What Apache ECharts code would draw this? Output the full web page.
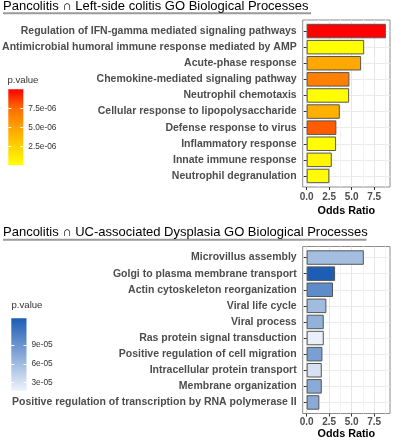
<!DOCTYPE html>
<html>
<head>
<meta charset="utf-8">
<script src="https://cdn.jsdelivr.net/npm/echarts@6/dist/echarts.min.js"></script>
<style>
html, body { margin: 0; padding: 0; background: #fff; }
#chart { width: 394px; height: 440px; }
</style>
</head>
<body>
<div id="chart"></div>
<script>
// Pancolitis ∩ Left-side colitis
var topTerms = [
    'Regulation of IFN-gamma mediated signaling pathways',
    'Antimicrobial humoral immune response mediated by AMP',
    'Acute-phase response',
    'Chemokine-mediated signaling pathway',
    'Neutrophil chemotaxis',
    'Cellular response to lipopolysaccharide',
    'Defense response to virus',
    'Inflammatory response',
    'Innate immune response',
    'Neutrophil degranulation'
];
var topOdds = [8.8, 6.39, 6.05, 4.75, 4.72, 3.68, 3.3, 3.27, 2.79, 2.52];
var topPvals = [1.0e-5, 1e-7, 4.7e-6, 6.6e-6, 2e-7, 4.3e-6, 7.9e-6, 2e-7, 6e-7, 2e-7];

// Pancolitis ∩ UC-associated Dysplasia
var bottomTerms = [
    'Microvillus assembly',
    'Golgi to plasma membrane transport',
    'Actin cytoskeleton reorganization',
    'Viral life cycle',
    'Viral process',
    'Ras protein signal transduction',
    'Positive regulation of cell migration',
    'Intracellular protein transport',
    'Membrane organization',
    'Positive regulation of transcription by RNA polymerase II'
];
var bottomOdds = [6.35, 3.16, 2.93, 2.19, 1.9, 1.9, 1.75, 1.68, 1.68, 1.41];
var bottomPvals = [5.8e-5, 1.32e-4, 9.65e-5, 5.9e-5, 6.7e-5, 1.9e-5, 8.1e-5, 3.0e-5, 7.2e-5, 7.2e-5];

var oddsTicks = [0, 2.5, 5, 7.5];
var oddsMinorTicks = [1.25, 3.75, 6.25, 8.75];
var topLegendTicks = [2.5e-6, 5e-6, 7.5e-6];
var bottomLegendTicks = [3e-5, 6e-5, 9e-5];
var topRange = [1e-7, 1e-5];
var bottomRange = [1.7e-5, 1.33e-4];
var topColors = ['#ffff00', '#ffd100', '#ffa100', '#ff6c00', '#ff0000'];
var bottomColors = ['#eef3fa', '#1c5cb3'];

var font = 'Liberation Sans, Arial, Helvetica, sans-serif';
var oddsMin = -0.44, oddsMax = 9.26;

function sci(v, digits) {
    return v.toExponential(digits).replace(/e([+-])(\d)$/, 'e$10$2');
}

function rows(terms, odds, pvals) {
    return terms.map(function (t, i) { return [odds[i], t, pvals[i]]; });
}

// vertical gradient, bottom = low p
function gradient(colors) {
    return new echarts.graphic.LinearGradient(0, 1, 0, 0, colors.map(function (c, i) {
        return { offset: i / (colors.length - 1), color: c };
    }));
}

// visible x axis (ticks, labels, major grid) on the frame grid
function oddsAxis(grid, labelMargin, nameGap) {
    return {
        gridIndex: grid, type: 'value', min: oddsMin, max: oddsMax,
        name: 'Odds Ratio', nameLocation: 'middle', nameGap: nameGap,
        nameTextStyle: { fontFamily: font, fontWeight: 'bold', fontSize: 10.8, color: '#000' },
        axisLine: { show: false },
        axisTick: { show: true, length: 3, lineStyle: { color: '#333' }, customValues: oddsTicks },
        axisLabel: {
            customValues: oddsTicks, margin: labelMargin,
            fontFamily: font, fontWeight: 'bold', fontSize: 10, color: '#4d4d4d',
            formatter: function (v) { return v.toFixed(1); }
        },
        splitLine: { show: true, lineStyle: { color: '#e6e6e6', width: 1 } }
    };
}
// minor grid lines
function minorAxis(grid) {
    return {
        gridIndex: grid, type: 'value', min: oddsMin, max: oddsMax, position: 'top',
        axisLine: { show: false },
        axisTick: { show: false, customValues: oddsMinorTicks },
        axisLabel: { show: false },
        splitLine: { show: true, lineStyle: { color: '#f3f3f3', width: 1 } }
    };
}
function barX(grid) {
    return { gridIndex: grid, type: 'value', min: oddsMin, max: oddsMax, show: false };
}
function termAxis(grid, terms) {
    return {
        gridIndex: grid, type: 'category', data: terms, inverse: true,
        axisLine: { show: false },
        axisTick: { show: true, length: 3, alignWithLabel: true, interval: 0, lineStyle: { color: '#333' } },
        axisLabel: {
            interval: 0, margin: 6,
            fontFamily: font, fontWeight: 'bold', fontSize: 10.5, color: '#4d4d4d'
        },
        splitLine: { show: true, alignWithLabel: true, interval: 0, lineStyle: { color: '#ebebeb' } }
    };
}
function legendAxis(grid, range, ticks, digits, side) {
    return {
        gridIndex: grid, type: 'value', min: range[0], max: range[1], position: side, z: 6,
        axisLine: { show: false },
        splitLine: { show: false },
        axisTick: { show: true, inside: true, length: 3, lineStyle: { color: '#fff', width: 1 }, customValues: ticks },
        axisLabel: {
            show: side === 'right', customValues: ticks, margin: 5,
            fontFamily: font, fontSize: 8.3, color: '#333',
            formatter: function (v) { return sci(v, digits); }
        }
    };
}
function barSeries(xi, yi, data) {
    return {
        type: 'bar', xAxisIndex: xi, yAxisIndex: yi, data: data,
        encode: { x: 0, y: 1 },
        barCategoryGap: '10%',
        itemStyle: { borderColor: '#555', borderWidth: 1 },
        silent: true
    };
}
// colour bar: transparent stack up to min, gradient from min to max
function colorbarSeries(xi, yi, range, colors, name) {
    return [
        { type: 'bar', xAxisIndex: xi, yAxisIndex: yi, stack: name, data: [range[0]], barWidth: '100%',
          itemStyle: { color: 'transparent' }, silent: true },
        { type: 'bar', xAxisIndex: xi, yAxisIndex: yi, stack: name, data: [range[1] - range[0]], barWidth: '100%',
          itemStyle: { color: gradient(colors) }, silent: true }
    ];
}

var titleStyle = { fontFamily: font, fontSize: 13, fontWeight: 'normal', color: '#000' };
var legendTitleStyle = { fontFamily: font, fontSize: 9.6, fontWeight: 'normal', color: '#333' };

var option = {
    animation: false,
    backgroundColor: '#fff',
    title: [
        { text: 'Pancolitis ∩ Left-side colitis GO Biological Processes', left: 3, top: 0, padding: 0, textStyle: titleStyle },
        { text: 'Pancolitis ∩ UC-associated Dysplasia GO Biological Processes', left: 3, top: 226, padding: 0, textStyle: titleStyle },
        { text: 'p.value', left: 7.5, top: 75.5, padding: 0, textStyle: legendTitleStyle },
        { text: 'p.value', left: 11.5, top: 300.5, padding: 0, textStyle: legendTitleStyle }
    ],
    graphic: [
        { type: 'line', shape: { x1: 3, y1: 13.3, x2: 311, y2: 13.3 }, style: { stroke: '#9a9a9a', lineWidth: 2 } },
        { type: 'line', shape: { x1: 3, y1: 239.8, x2: 366.5, y2: 239.8 }, style: { stroke: '#9a9a9a', lineWidth: 2 } }
    ],
    grid: [
        { left: 302.7, top: 20, width: 87.3, height: 167, show: true, borderColor: '#8c8c8c', borderWidth: 1, backgroundColor: 'transparent', outerBoundsMode: 'none' },
        { left: 302.7, top: 23, width: 87.3, height: 161, outerBoundsMode: 'none' },
        { left: 302.7, top: 246.5, width: 87.3, height: 167, show: true, borderColor: '#8c8c8c', borderWidth: 1, backgroundColor: 'transparent', outerBoundsMode: 'none' },
        { left: 302.7, top: 249.5, width: 87.3, height: 161, outerBoundsMode: 'none' },
        { left: 8.3, top: 89.3, width: 15, height: 75.7, outerBoundsMode: 'none' },
        { left: 11.3, top: 318.3, width: 15.2, height: 72.4, outerBoundsMode: 'none' }
    ],
    xAxis: [
        oddsAxis(0, 5, 19),
        minorAxis(0),
        barX(1),
        oddsAxis(2, 3.5, 15),
        minorAxis(2),
        barX(3),
        { gridIndex: 4, type: 'category', data: ['p'], show: false },
        { gridIndex: 5, type: 'category', data: ['p'], show: false }
    ],
    yAxis: [
        { gridIndex: 0, type: 'value', show: false, min: 0, max: 1 },
        termAxis(1, topTerms),
        { gridIndex: 2, type: 'value', show: false, min: 0, max: 1 },
        termAxis(3, bottomTerms),
        legendAxis(4, topRange, topLegendTicks, 1, 'right'),
        legendAxis(4, topRange, topLegendTicks, 1, 'left'),
        legendAxis(5, bottomRange, bottomLegendTicks, 0, 'right'),
        legendAxis(5, bottomRange, bottomLegendTicks, 0, 'left')
    ],
    visualMap: [
        { type: 'continuous', show: false, seriesIndex: 0, dimension: 2,
          min: topRange[0], max: topRange[1], inRange: { color: topColors } },
        { type: 'continuous', show: false, seriesIndex: 1, dimension: 2,
          min: bottomRange[0], max: bottomRange[1], inRange: { color: bottomColors } }
    ],
    series: [
        barSeries(2, 1, rows(topTerms, topOdds, topPvals)),
        barSeries(5, 3, rows(bottomTerms, bottomOdds, bottomPvals))
    ].concat(
        colorbarSeries(6, 4, topRange, topColors, 'cbTop'),
        colorbarSeries(7, 6, bottomRange, bottomColors, 'cbBottom')
    )
};

var chart = echarts.init(document.getElementById('chart'));
chart.setOption(option);
</script>
</body>
</html>
